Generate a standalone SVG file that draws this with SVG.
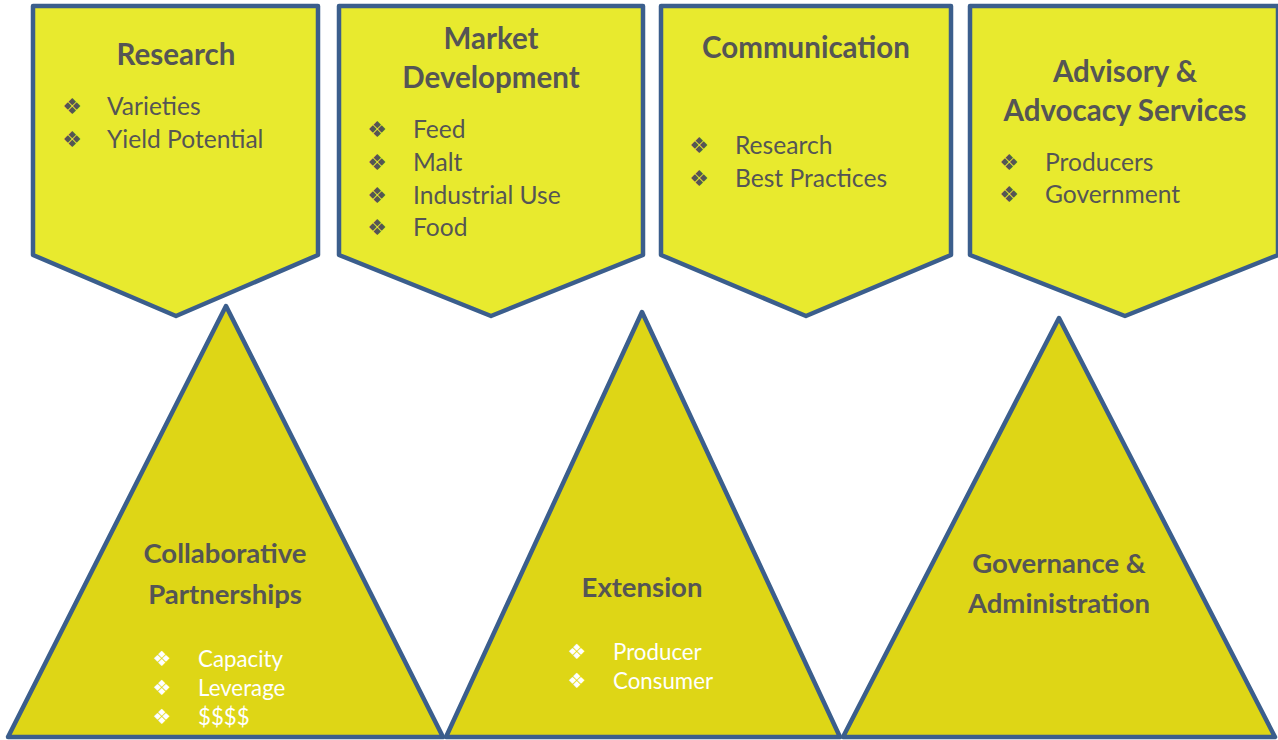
<svg xmlns="http://www.w3.org/2000/svg" width="1278" height="740" viewBox="0 0 1278 740">
  <style>
    .pent { fill: #E8EA2E; stroke: #3B5E8C; stroke-width: 4.5; stroke-linejoin: round; }
    .tri { fill: #DED616; stroke: #3B5E8C; stroke-width: 4.5; stroke-linejoin: round; }
    .title { font-family: Lato, "Liberation Sans", sans-serif; font-weight: bold; font-size: 29.5px; fill: #555555; text-anchor: middle; }
    .ttl2 { font-family: Lato, "Liberation Sans", sans-serif; font-weight: bold; font-size: 27.5px; fill: #555555; text-anchor: middle; }
    .item { font-family: Lato, "Liberation Sans", sans-serif; font-size: 24.6px; fill: #555555; }
    .itemw { font-family: Lato, "Liberation Sans", sans-serif; font-size: 22.3px; fill: #FFFFFF; }
    .bul { font-family: "DejaVu Sans", sans-serif; font-size: 22px; fill: #555555; text-anchor: middle; }
    .bulw { font-family: "DejaVu Sans", sans-serif; font-size: 21px; fill: #FFFFFF; text-anchor: middle; }
  </style>
  <rect width="1278" height="740" fill="#FFFFFF"/>

  <!-- top pillars -->
  <g id="research">
    <polygon class="pent" points="33,6 318,6 318,255 176,316 33,255"/>
    <text class="title" x="176" y="65">Research</text>
    <text class="bul" x="72" y="114">❖</text><text class="item" x="107" y="115">Varieties</text>
    <text class="bul" x="72" y="147">❖</text><text class="item" x="107" y="148">Yield Potential</text>
  </g>

  <g id="market-development">
    <polygon class="pent" points="339,6 643,6 643,255 491,316 339,255"/>
    <text class="title" x="491" y="49">Market</text>
    <text class="title" x="491" y="88">Development</text>
    <text class="bul" x="377" y="137">❖</text><text class="item" x="413" y="138">Feed</text>
    <text class="bul" x="377" y="170">❖</text><text class="item" x="413" y="171">Malt</text>
    <text class="bul" x="377" y="203">❖</text><text class="item" x="413" y="204">Industrial Use</text>
    <text class="bul" x="377" y="235">❖</text><text class="item" x="413" y="236">Food</text>
  </g>

  <g id="communication">
    <polygon class="pent" points="661,6 951,6 951,255 806,316 661,255"/>
    <text class="title" x="806" y="58">Communication</text>
    <text class="bul" x="699" y="153">❖</text><text class="item" x="735" y="154">Research</text>
    <text class="bul" x="699" y="186">❖</text><text class="item" x="735" y="187">Best Practices</text>
  </g>

  <g id="advisory-advocacy">
    <polygon class="pent" points="970,6 1278,6 1278,255 1125,316 970,255"/>
    <text class="title" x="1125" y="82">Advisory &amp;</text>
    <text class="title" x="1125" y="121">Advocacy Services</text>
    <text class="bul" x="1009" y="170">❖</text><text class="item" x="1045" y="171">Producers</text>
    <text class="bul" x="1009" y="202">❖</text><text class="item" x="1045" y="203">Government</text>
  </g>

  <!-- foundation triangles -->
  <g id="collaborative-partnerships">
    <polygon class="tri" points="226,306 443,737 8,737"/>
    <text class="ttl2" x="225" y="563">Collaborative</text>
    <text class="ttl2" x="225" y="604">Partnerships</text>
    <text class="bulw" x="162" y="666">❖</text><text class="itemw" x="198" y="667">Capacity</text>
    <text class="bulw" x="162" y="695">❖</text><text class="itemw" x="198" y="696">Leverage</text>
    <text class="bulw" x="162" y="724">❖</text><text class="itemw" x="198" y="725">$$$$</text>
  </g>

  <g id="extension">
    <polygon class="tri" points="642,312 840,737 446,737"/>
    <text class="ttl2" x="642" y="597">Extension</text>
    <text class="bulw" x="577" y="659">❖</text><text class="itemw" x="613" y="660">Producer</text>
    <text class="bulw" x="577" y="688">❖</text><text class="itemw" x="613" y="689">Consumer</text>
  </g>

  <g id="governance-administration">
    <polygon class="tri" points="1059,318 1275,737 843,737"/>
    <text class="ttl2" x="1059" y="573">Governance &amp;</text>
    <text class="ttl2" x="1059" y="613">Administration</text>
  </g>

  <g id="connectors"></g>
</svg>
